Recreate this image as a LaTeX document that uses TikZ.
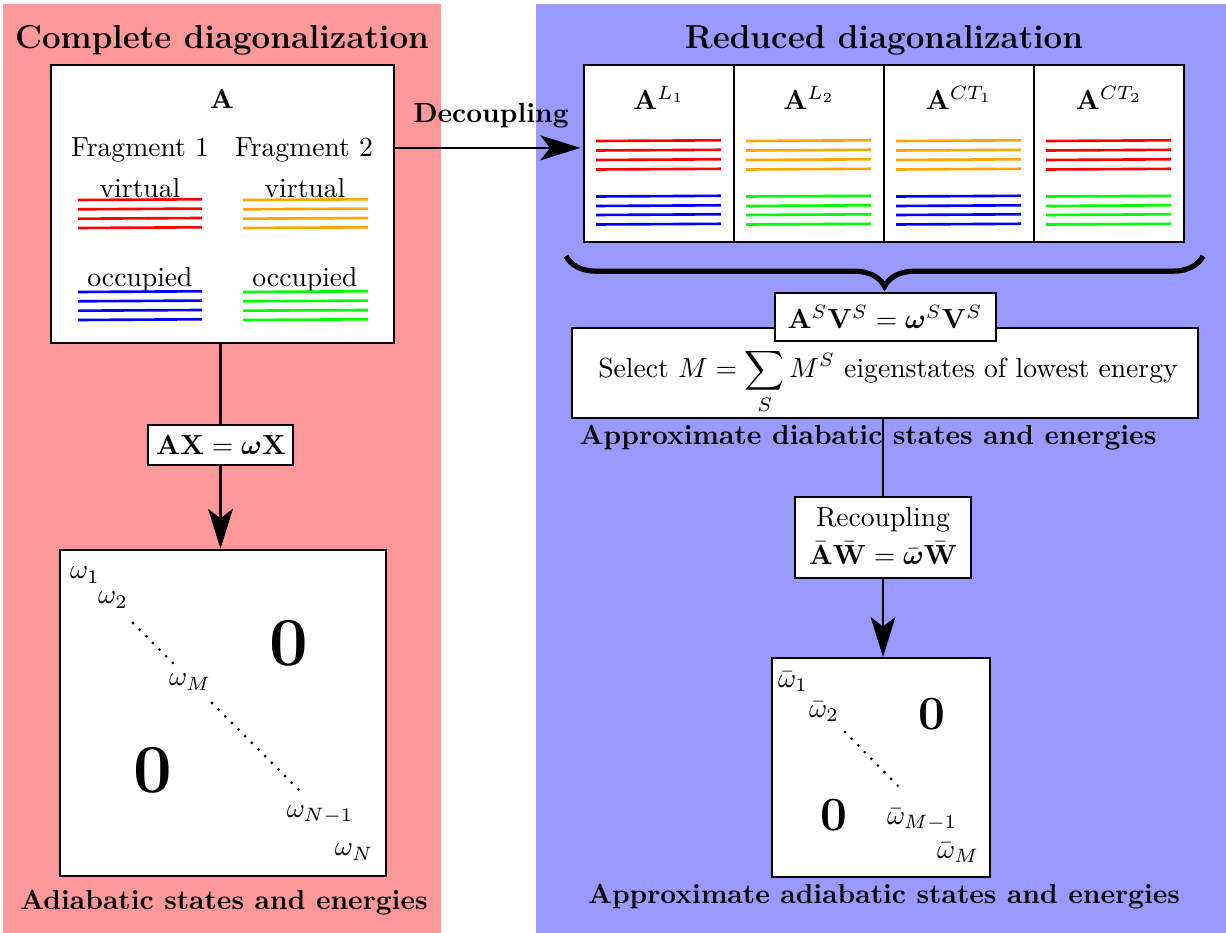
\documentclass[tikz,border=0pt]{standalone}
\usepackage{amsmath,bm}
\usetikzlibrary{arrows.meta,decorations.pathreplacing,fit,calc}
\definecolor{bgred}{RGB}{255,153,153}
\definecolor{bgblue}{RGB}{153,153,255}
\definecolor{lvred}{RGB}{255,0,0}
\definecolor{lvorange}{RGB}{255,165,0}
\definecolor{lvblue}{RGB}{0,0,255}
\definecolor{lvgreen}{RGB}{0,255,0}
\begin{document}
\begin{tikzpicture}[x=0.362pt,y=-0.362pt,
  box/.style={draw, fill=white, inner sep=0pt, line width=0.8pt},
  thinbox/.style={draw, fill=white, inner sep=0pt, line width=0.6pt},
  ttl/.style={font=\large\bfseries, inner sep=0pt},
  lbl/.style={inner sep=0pt},
  bold/.style={font=\bfseries, inner sep=0pt},
  conn/.style={line width=0.8pt},
  arr/.style={line width=0.8pt, -{Stealth[length=14.5pt,width=9pt,inset=3.5pt]}},
  lev/.style={line width=0.95pt},
  dotline/.style={line width=1.1pt, dash pattern=on 0pt off 3.4pt, line cap=round},
  bigzero/.style={font=\Huge\bfseries, inner sep=0pt},
  midzero/.style={font=\LARGE\bfseries, inner sep=0pt}]
% backgrounds
\fill[bgred] (3,4) rectangle (441,933);
\fill[bgblue] (536,4) rectangle (1226,933);
\useasboundingbox (0,0) rectangle (1226,933);
% titles
\node[ttl] (t1) at (222,40) {Complete diagonalization};
\node[ttl] (t2) at (884,40) {Reduced diagonalization};
% full matrix A
\node[box, line width=0.95pt, fit={(51,65) (394,343)}] (A) {};
\node[lbl] (Alab) at (222,99) {$\mathbf{A}$};
\node[lbl] (f1) at (140,150) {Fragment 1};
\node[lbl] (f2) at (304,150) {Fragment 2};
\node[lbl] (v1) at (140,188) {virtual};
\node[lbl] (v2) at (305,188) {virtual};
\node[lbl] (o1) at (140,280) {occupied};
\node[lbl] (o2) at (305,280) {occupied};
\foreach \y in {200,209.3,218.7,228} {
  \draw[lev,lvred] (78,\y) -- (202,\y-0.7);
  \draw[lev,lvorange] (243,\y) -- (368,\y-0.7);
}
\foreach \y in {292,301.3,310.7,320} {
  \draw[lev,lvblue] (78,\y) -- (202,\y-0.7);
  \draw[lev,lvgreen] (243,\y) -- (368,\y-0.7);
}
% reduced blocks
\foreach \i/\nm in {0/R1,1/R2,2/R3,3/R4}
  \node[thinbox, fit={(584+150*\i,65) (734+150*\i,242)}] (\nm) {};
\node[lbl] (l1) at (659,98) {$\mathbf{A}^{L_1}$};
\node[lbl] (l2) at (809,98) {$\mathbf{A}^{L_2}$};
\node[lbl] (l3) at (959,98) {$\mathbf{A}^{CT_1}$};
\node[lbl] (l4) at (1109,98) {$\mathbf{A}^{CT_2}$};
\foreach \i/\ct/\cb in {0/lvred/lvblue,1/lvorange/lvgreen,2/lvorange/lvblue,3/lvred/lvgreen} {
  \foreach \y in {141,150.5,160,169.5}
    \draw[lev,\ct] (596+150*\i,\y) -- (721+150*\i,\y-0.7);
  \foreach \y in {196.5,206,215,224.5}
    \draw[lev,\cb] (596+150*\i,\y) -- (721+150*\i,\y-0.7);
}
% decoupling arrow
\coordinate (d0) at ($(A.north east)!0.3!(A.south east)$);
\draw[arr, shorten >=1pt] (d0) -- (d0 -| R1.west);
\node[bold] (dec) at (491,116) {Decoupling};
% brace
\draw[line width=1.9pt, decorate, decoration={brace,mirror,amplitude=11pt}] (566,256) -- (1203,256);
% selection
\node[box, fit={(572,328) (1198,418)}] (Sel) {};
\node[lbl, anchor=base] (selt) at (888,378) {Select $M=\displaystyle\sum_S M^S$ eigenstates of lowest energy};
\node[box, fit={(775,293) (996,341)}] (EqS) {};
\node[lbl] (eqt) at (885,317) {$\mathbf{A}^S\mathbf{V}^S=\bm{\omega}^S\mathbf{V}^S$};
\node[bold] (diab) at (868,438) {Approximate diabatic states and energies};
% recoupling
\node[box, line width=0.95pt, fit={(795,497) (971,578)}] (Rec) {};
\node[lbl, align=center] (rect) at (883,536) {Recoupling\\[2pt]$\bar{\mathbf{A}}\bar{\mathbf{W}}=\bar{\bm{\omega}}\bar{\mathbf{W}}$};
\draw[conn] (Sel.south -| Rec.north) -- (Rec.north);
% reduced eigenvalue matrix
\node[box, line width=0.7pt, fit={(772,658) (990,877)}] (RM) {};
\draw[arr] (Rec.south) -- (Rec.south |- RM.north);
\node[lbl] (rb1) at (793,682) {$\bar\omega_1$};
\node[lbl] (rb2) at (824,712) {$\bar\omega_2$};
\node[lbl] (rbm1) at (922,820) {$\bar\omega_{M-1}$};
\node[lbl] (rbm) at (958,853) {$\bar\omega_M$};
\node[midzero] (rz1) at (932,714) {0};
\node[midzero] (rz2) at (834,815) {0};
\draw[dotline] (845,732) -- (904,792);
\node[bold] (rlab) at (884,897) {Approximate adiabatic states and energies};
% full diagonalization
\node[box, fit={(148,425) (293,465)}] (AX) {};
\node[lbl] (axt) at (221,445) {$\mathbf{AX}=\bm{\omega}\mathbf{X}$};
\draw[conn] (AX.north |- A.south) -- (AX.north);
\node[box, line width=0.9pt, fit={(60,550) (386,876)}] (LM) {};
\draw[arr] (AX.south) -- (AX.south |- LM.north);
\node[lbl] (w1) at (85,575) {$\omega_1$};
\node[lbl] (w2) at (113,600) {$\omega_2$};
\node[lbl] (wM) at (190,682) {$\omega_M$};
\node[lbl] (wN1) at (320,815) {$\omega_{N-1}$};
\node[lbl] (wN) at (354,852) {$\omega_N$};
\node[bigzero] (z1) at (289,643) {0};
\node[bigzero] (z2) at (153,770) {0};
\draw[dotline] (133,623) -- (173,663);
\draw[dotline] (212,703) -- (303,794);
\node[bold] (llab) at (224,903) {Adiabatic states and energies};
\end{tikzpicture}
\end{document}
